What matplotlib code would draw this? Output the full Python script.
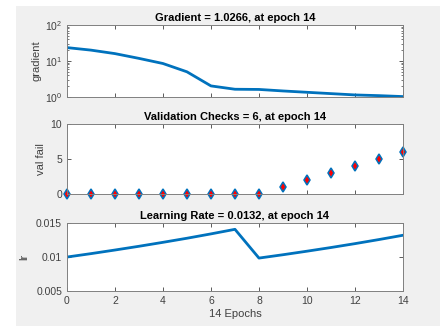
import matplotlib
matplotlib.use("Agg")
import matplotlib.pyplot as plt
from matplotlib.patches import Rectangle
from matplotlib.ticker import FormatStrFormatter, LogLocator, NullFormatter

# training record, one value per epoch
epochs = list(range(15))
gradient = [23.5, 20.0, 16.0, 11.8, 8.5, 5.0, 2.03, 1.64, 1.62, 1.47, 1.35, 1.24, 1.14, 1.09, 1.0266]
val_fail = [0, 0, 0, 0, 0, 0, 0, 0, 0, 1, 2, 3, 4, 5, 6]
lr = [0.01, 0.0105, 0.01103, 0.01158, 0.01216, 0.01276, 0.0134, 0.01407,
      0.00985, 0.01034, 0.01086, 0.0114, 0.01197, 0.01257, 0.0132]

plt.rcParams['font.family'] = ['Liberation Sans', 'DejaVu Sans']
plt.rcParams['mathtext.default'] = 'regular'

blue = '#0072BD'
txt = '#404040'
edge = '#808080'

fig = plt.figure(figsize=(4.4, 3.26), dpi=100)
fig.patch.set_facecolor('white')
fig.patches.append(Rectangle((16 / 440, 0), 1 - 16 / 440, 1 - 6 / 326,
                             transform=fig.transFigure, facecolor='#f0f0f0',
                             edgecolor='none', zorder=-10))

left, width = 0.152, 0.764
ax1 = fig.add_axes([left, 0.7025, width, 0.221])
ax2 = fig.add_axes([left, 0.405, width, 0.215])
ax3 = fig.add_axes([left, 0.107, width, 0.209])


def style(ax):
    ax.set_xlim(0, 14)
    ax.set_xticks(range(0, 15, 2))
    ax.tick_params(direction='in', top=True, right=True, labelsize=7.5,
                   colors=txt, length=3, width=0.6)
    ax.tick_params(which='minor', direction='in', right=True, length=1.5, width=0.5, colors=txt)
    for s in ax.spines.values():
        s.set_color(edge)
        s.set_linewidth(0.7)


# gradient on a log axis
ax1.semilogy(epochs, gradient, color=blue, lw=2)
ax1.set_ylim(1, 100)
ax1.yaxis.set_minor_locator(LogLocator(subs=range(2, 10)))
ax1.yaxis.set_minor_formatter(NullFormatter())
style(ax1)
ax1.set_xticklabels([])
ax1.set_ylabel('gradient', fontsize=8, color=txt, labelpad=2)
ax1.set_title('Gradient = 1.0266, at epoch 14', fontsize=8, fontweight='bold', pad=3)

# validation failures
ax2.plot(epochs, val_fail, linestyle='none', marker='d', markersize=5.5,
         markerfacecolor='red', markeredgecolor=blue, markeredgewidth=1.1, clip_on=False)
ax2.set_ylim(0, 10)
ax2.set_yticks([0, 5, 10])
style(ax2)
ax2.set_xticklabels([])
ax2.set_ylabel('val fail', fontsize=8, color=txt, labelpad=3)
ax2.set_title('Validation Checks = 6, at epoch 14', fontsize=8, fontweight='bold', pad=3)

# learning rate
ax3.plot(epochs, lr, color=blue, lw=2)
ax3.set_ylim(0.005, 0.015)
ax3.set_yticks([0.005, 0.01, 0.015])
ax3.yaxis.set_major_formatter(FormatStrFormatter('%g'))
style(ax3)
ax3.set_ylabel('lr', fontsize=8, color=txt, labelpad=5)
ax3.set_xlabel('14 Epochs', fontsize=8, color=txt, labelpad=2)
ax3.set_title('Learning Rate = 0.0132, at epoch 14', fontsize=8, fontweight='bold', pad=3)

fig.savefig('out.png', dpi=100, facecolor=fig.get_facecolor())
